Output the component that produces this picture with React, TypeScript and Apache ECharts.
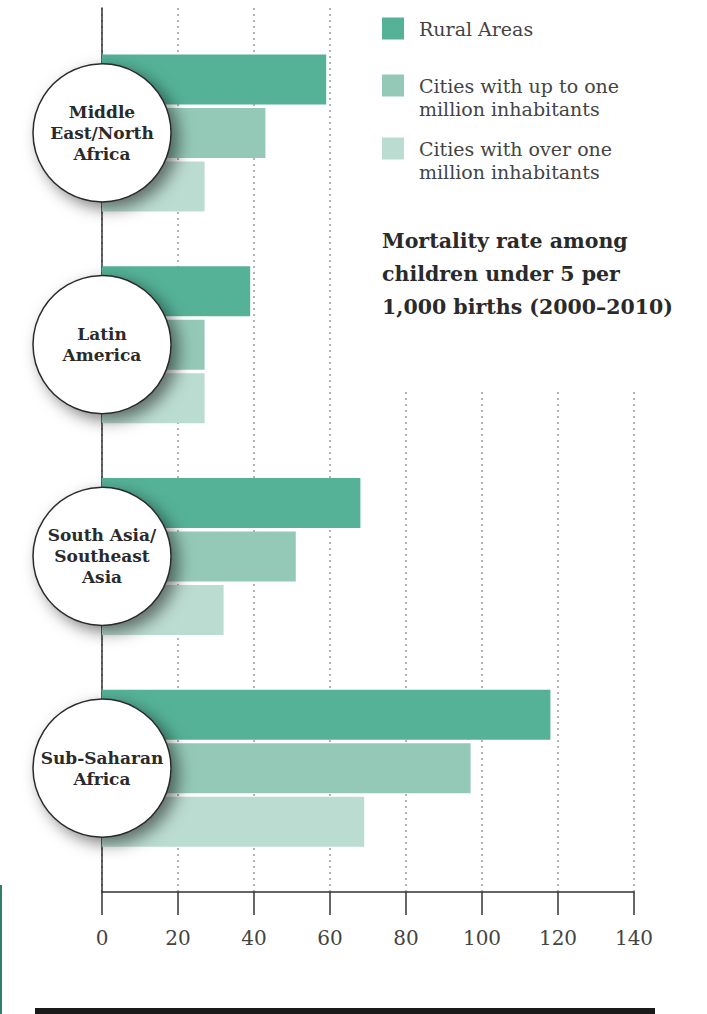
import React, { useEffect, useRef } from "react";
import * as echarts from "echarts";

const categories = [
  "Middle\nEast/North\nAfrica",
  "Latin\nAmerica",
  "South Asia/\nSoutheast\nAsia",
  "Sub-Saharan\nAfrica",
];
const seriesNames = [
  "Rural Areas",
  "Cities with up to one million inhabitants",
  "Cities with over one million inhabitants",
];
const legendLines = [
  ["Rural Areas"],
  ["Cities with up to one", "million inhabitants"],
  ["Cities with over one", "million inhabitants"],
];
const rural = [59, 39, 68, 118];
const upToMillion = [43, 27, 51, 97];
const overMillion = [27, 27, 32, 69];
const axisMin = 0;
const axisMax = 140;
const axisStep = 20;
const titleText = "Mortality rate among\nchildren under 5 per\n1,000 births (2000–2010)";

const colors = ["#55b297", "#95c9b7", "#bbdcd1"];
const SERIF = "'DejaVu Serif', serif";

export default function App() {
  const ref = useRef<HTMLDivElement>(null);
  useEffect(() => {
    if (!ref.current) return;
    const chart = echarts.init(ref.current, null, { renderer: "svg" });
    const values = [rural, upToMillion, overMillion];
    const legendTops = [17.5, 57.5, 120.5];
    const option: any = {
      animation: false,
      backgroundColor: "#ffffff",
      title: {
        text: titleText,
        left: 382,
        top: 224,
        padding: 0,
        textStyle: {
          fontFamily: SERIF,
          fontWeight: "bold",
          fontSize: 20.5,
          lineHeight: 33,
          color: "#2a2a2a",
        },
        z: 8,
      },
      legend: seriesNames.map((n, i) => ({
        data: [n],
        left: 382,
        top: legendTops[i],
        padding: 0,
        orient: "vertical",
        icon: "rect",
        itemWidth: 22,
        itemHeight: 22,
        selectedMode: false,
        z: 8,
        formatter: () =>
          legendLines[i].length > 1
            ? "{e| }\n" + legendLines[i].map((l) => "{a|" + l + "}").join("\n")
            : "{a|" + legendLines[i][0] + "}",
        textStyle: {
          fontFamily: SERIF,
          fontSize: 19,
          color: "#444",
          padding: [0, 0, 0, 10],
          rich: {
            a: { fontFamily: SERIF, fontSize: 19, color: "#444", lineHeight: 23 },
            e: { fontFamily: SERIF, fontSize: 10, color: "#444", lineHeight: 23 },
          },
        },
      })),
      grid: [
        { left: 102, right: 73, top: 27, bottom: 140 },
        { left: 102, right: 73, top: 8, bottom: 122 },
      ],
      xAxis: [
        { gridIndex: 0, type: "value", min: axisMin, max: axisMax, interval: axisStep, show: false },
        {
          gridIndex: 1,
          type: "value",
          min: axisMin,
          max: axisMax,
          interval: axisStep,
          axisLine: { show: true, lineStyle: { color: "#333", width: 1.5 } },
          axisTick: { show: true, length: 23, lineStyle: { color: "#333", width: 1.5 } },
          axisLabel: { margin: 36, fontFamily: SERIF, fontSize: 20, color: "#444" },
          splitLine: { show: true, lineStyle: { type: [2, 4], color: "#9a9a9a", width: 1.5 } },
        },
      ],
      yAxis: [
        { gridIndex: 0, type: "category", data: categories, inverse: true, show: false },
        {
          gridIndex: 1,
          type: "value",
          min: 0,
          max: 1,
          axisLine: { show: true, lineStyle: { color: "#333", width: 1.5 } },
          axisTick: { show: false },
          axisLabel: { show: false },
          splitLine: { show: false },
        },
      ],
      graphic: [
        { type: "rect", z: 3, shape: { x: 372, y: 0, width: 335, height: 388 }, style: { fill: "#ffffff" } },
        { type: "rect", z: 3, shape: { x: 35, y: 1008, width: 620, height: 6 }, style: { fill: "#1a1a1a" } },
        { type: "rect", z: 3, shape: { x: 0, y: 885, width: 2, height: 129 }, style: { fill: "#2f7f6a" } },
      ],
      series: [
        ...seriesNames.map((n, i) => ({
          name: n,
          type: "bar",
          xAxisIndex: 0,
          yAxisIndex: 0,
          data: values[i],
          barWidth: 50,
          barGap: "7%",
          itemStyle: { color: colors[i] },
          z: 2,
        })),
        {
          name: "regions",
          type: "scatter",
          xAxisIndex: 0,
          yAxisIndex: 0,
          clip: false,
          symbol: "circle",
          symbolSize: 138,
          z: 6,
          data: categories.map((c) => [0, c]),
          itemStyle: {
            color: "#ffffff",
            opacity: 1,
            borderColor: "#2a2a2a",
            borderWidth: 1.5,
            shadowBlur: 16,
            shadowColor: "rgba(0,0,0,0.5)",
            shadowOffsetX: 7,
            shadowOffsetY: 6,
          },
          label: {
            show: true,
            position: "inside",
            formatter: (p: any) => p.value[1],
            fontFamily: SERIF,
            fontWeight: "bold",
            fontSize: 17,
            lineHeight: 21,
            color: "#2a2a2a",
          },
          emphasis: { disabled: true },
        },
      ],
    };
    chart.setOption(option);
    return () => chart.dispose();
  }, []);
  return (
    <div
      ref={ref}
      style={{ position: "fixed", left: 0, top: 0, width: 707, height: 1014, background: "#fff" }}
    />
  );
}
